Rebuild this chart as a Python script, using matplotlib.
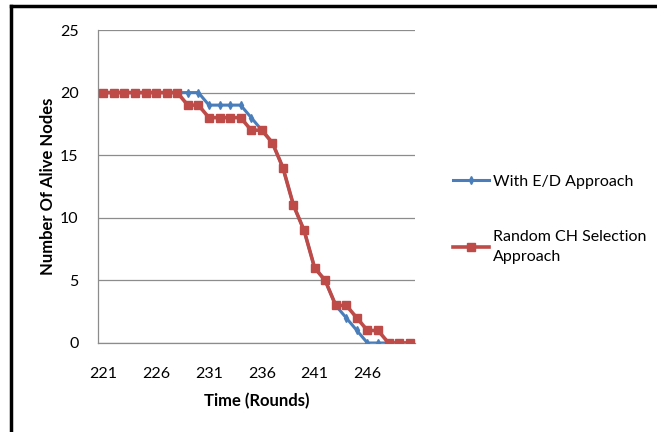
import matplotlib
matplotlib.use("Agg")
import matplotlib.pyplot as plt
from matplotlib.lines import Line2D

plt.rcParams['font.family'] = ['Lato', 'DejaVu Sans']

rounds = list(range(221, 251))
with_ed = [20, 20, 20, 20, 20, 20, 20, 20, 20, 20,
           19, 19, 19, 19,
           18, 17, 16, 14, 11, 9, 6, 5, 3, 2, 1, 0, 0, 0, 0, 0]
random_ch = [20, 20, 20, 20, 20, 20, 20, 20,
             19, 19,
             18, 18, 18, 18,
             17, 17, 16, 14, 11, 9, 6, 5, 3, 3, 2, 1, 1, 0, 0, 0]
xtick_labels = ["221", "226", "231", "236", "241", "246"]
yticks = [0, 5, 10, 15, 20, 25]

fig = plt.figure(figsize=(6.57, 4.32), dpi=100)
ax = fig.add_axes([98/657, 1-343/432, (415-98)/657, (343-30)/432])

idx = list(range(len(rounds)))
blue = "#4A7EBB"
red = "#BE4B48"
l1, = ax.plot(idx, with_ed, color=blue, lw=2.2, marker='d', markersize=4,
              label="With E/D Approach", zorder=3)
l2, = ax.plot(idx, random_ch, color=red, lw=2.6, marker='s', markersize=5.5,
              label="Random CH Selection\nApproach", zorder=4)

ax.set_xlim(-0.5, len(rounds) - 0.5)
ax.set_ylim(0, 25)
ax.set_yticks(yticks)
ax.set_yticklabels([str(v) for v in yticks], fontsize=11.5)
tick_pos = [rounds.index(int(t)) for t in xtick_labels]
ax.set_xticks(tick_pos)
ax.set_xticklabels(xtick_labels, fontsize=11.5)
ax.tick_params(axis='both', length=0)
ax.tick_params(axis='y', pad=14)
ax.tick_params(axis='x', pad=17)
ax.grid(axis='y', color='#8C8C8C', lw=0.9)
ax.set_axisbelow(True)
for s in ['top', 'right']:
    ax.spines[s].set_visible(False)
for s in ['left', 'bottom']:
    ax.spines[s].set_color('#8C8C8C')
    ax.spines[s].set_linewidth(0.9)

ax.set_xlabel("Time (Rounds)", fontsize=12, fontweight='bold', labelpad=9)
ax.set_ylabel("Number Of Alive Nodes", fontsize=12, fontweight='bold', labelpad=3)

leg = fig.legend(handles=[l1, l2], loc='upper left', bbox_to_anchor=(447/657, 1-168/432),
                 frameon=False, fontsize=11.5, handlelength=2.2, handletextpad=0.3,
                 labelspacing=2.6, borderaxespad=0)
for t in leg.get_texts():
    t.set_linespacing(1.55)

# outer frame (top and left edges)
fig.add_artist(Line2D([11/657, 1.0], [1-6/432, 1-6/432], color='black', lw=2.5,
                      transform=fig.transFigure))
fig.add_artist(Line2D([11/657, 11/657], [0, 1-6/432], color='black', lw=2.5,
                      transform=fig.transFigure))

fig.savefig("out.png", dpi=100)
